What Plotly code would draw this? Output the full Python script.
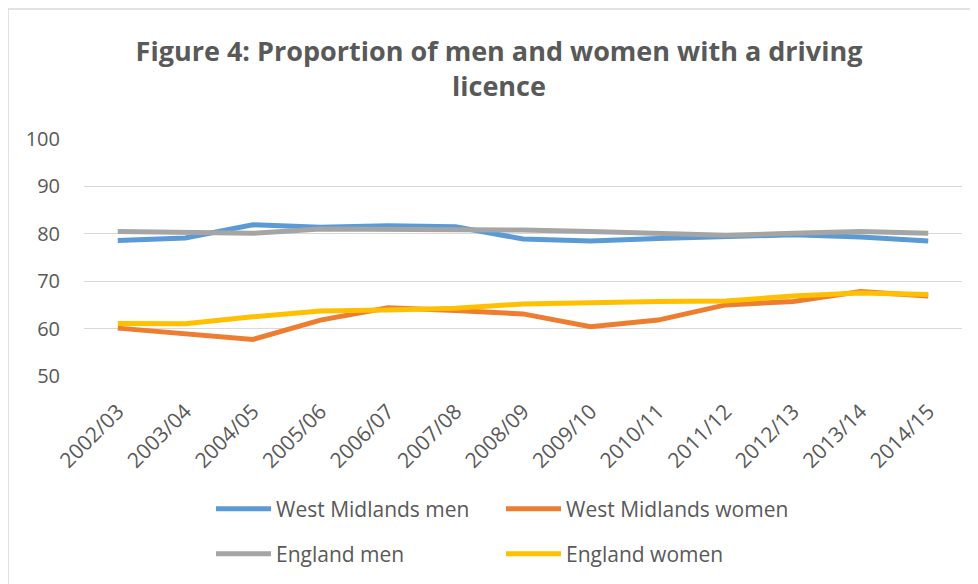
import plotly.graph_objects as go

years = ["2002/03", "2003/04", "2004/05", "2005/06", "2006/07", "2007/08", "2008/09",
         "2009/10", "2010/11", "2011/12", "2012/13", "2013/14", "2014/15"]
wm_men = [78.6, 79.1, 81.9, 81.4, 81.7, 81.5, 78.9, 78.5, 79.0, 79.5, 79.8, 79.3, 78.5]
wm_women = [60.1, 59.0, 57.7, 61.8, 64.4, 63.8, 63.1, 60.4, 61.8, 65.0, 65.7, 67.8, 66.9]
eng_men = [80.5, 80.3, 80.1, 81.0, 81.0, 80.8, 80.8, 80.5, 80.0, 79.7, 80.1, 80.5, 80.1]
eng_women = [61.1, 61.0, 62.5, 63.7, 63.9, 64.3, 65.2, 65.5, 65.7, 65.8, 66.9, 67.5, 67.2]

series = [
    ("West Midlands men", wm_men, "#5B9BD5", "legend"),
    ("West Midlands women", wm_women, "#ED7D31", "legend"),
    ("England men", eng_men, "#A5A5A5", "legend2"),
    ("England women", eng_women, "#FFC000", "legend2"),
]

FONT = "Open Sans"
TXT = "#595959"

fig = go.Figure()
for name, vals, color, leg in series:
    fig.add_trace(go.Scatter(
        x=years, y=vals, name=name, mode="lines",
        line=dict(color=color, width=5),
        legend=leg,
    ))

# the page body adds an 8px offset; figure coordinates below are page coords - 8
OFF = 8
W, H = 970, 576
L, R, T, B = 76, 16, 131, 208
pw, ph = W - L - R, H - T - B

def px_x(p):
    return (p - OFF - L) / pw

def px_y(p):
    return (H - B - (p - OFF)) / ph

fig.update_layout(
    width=W, height=H,
    margin=dict(l=L, r=R, t=T, b=B, autoexpand=False),
    paper_bgcolor="white", plot_bgcolor="white",
    font=dict(family=FONT, color=TXT, size=20),
    title=dict(
        text="<b>Figure 4: Proportion of men and women with a driving<br>licence</b>",
        font=dict(family=FONT, size=27, color=TXT),
        xref="paper", x=px_x(499), xanchor="center",
        yref="container", y=1 - 53 / H, yanchor="top",
    ),
    xaxis=dict(
        type="category", range=[-0.5, len(years) - 0.5],
        showgrid=False, zeroline=False, showline=False,
        tickangle=-45, tickfont=dict(size=21, color=TXT),
        ticks="", ticklabelstandoff=18,
    ),
    yaxis=dict(
        range=[50, 100], dtick=10, tick0=50, showgrid=True,
        gridcolor="#D9D9D9", gridwidth=1.3, zeroline=False, showline=False,
        tickfont=dict(size=20, color=TXT), ticks="", ticklabelstandoff=23,
    ),
    legend=dict(
        orientation="h", x=px_x(211), xanchor="left", y=px_y(509), yanchor="middle",
        itemwidth=55, entrywidth=220, entrywidthmode="pixels",
        font=dict(size=21, color=TXT), bgcolor="rgba(0,0,0,0)",
    ),
    legend2=dict(
        orientation="h", x=px_x(211), xanchor="left", y=px_y(554), yanchor="middle",
        itemwidth=55, entrywidth=220, entrywidthmode="pixels",
        font=dict(size=21, color=TXT), bgcolor="rgba(0,0,0,0)",
    ),
    showlegend=True,
    hovermode=False,
    shapes=[dict(
        type="rect", xref="paper", yref="paper",
        x0=px_x(8), x1=px_x(1100), y0=px_y(700), y1=px_y(9),
        line=dict(color="#D9D9D9", width=1.5), fillcolor="rgba(0,0,0,0)", layer="below",
    )],
)

fig.write_html("out.html")
